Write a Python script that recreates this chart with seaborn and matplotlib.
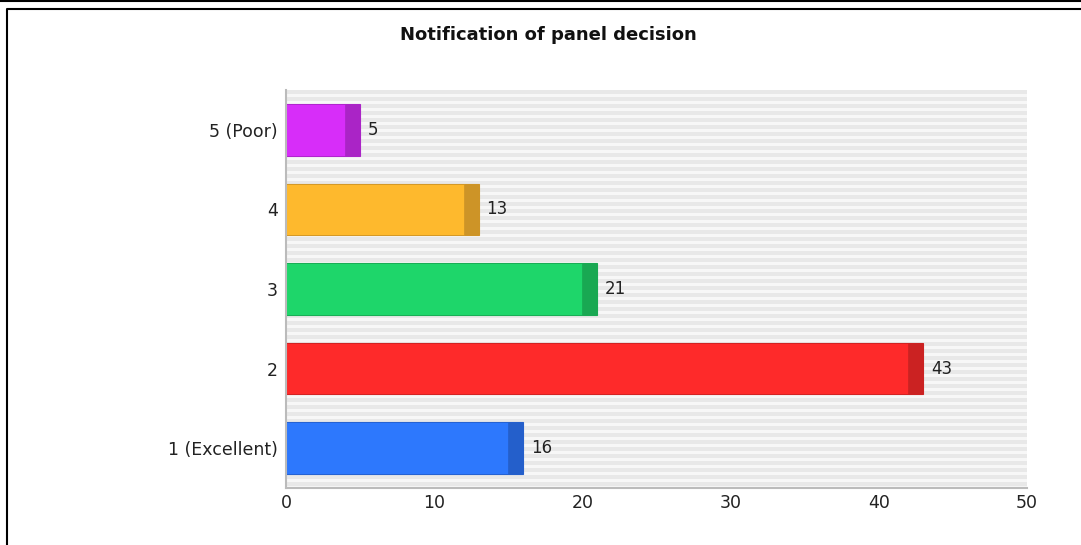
import numpy as np
import matplotlib
matplotlib.use('Agg')
import matplotlib.pyplot as plt
from matplotlib.lines import Line2D
import seaborn as sns

# data, top to bottom as in the chart
categories = ['5 (Poor)', '4', '3', '2', '1 (Excellent)']
values = [5, 13, 21, 43, 16]
x_ticks = [0, 10, 20, 30, 40, 50]

# bar colours (main face / darker end cap)
main_colors = ['#d72df9', '#feb92d', '#1ed66a', '#fe2a2a', '#2d78fd']
dark_colors = ['#aa24c6', '#cd9427', '#19a852', '#cb2222', '#245fcb']

sns.set_style('white')
plt.rcParams['font.family'] = ['DejaVu Sans']

fig = plt.figure(figsize=(10.81, 5.45), dpi=100)
pos = [286 / 1081, 1 - 488 / 545, (1027 - 286) / 1081, (488 - 90) / 545]

# striped background behind the plot
bg = fig.add_axes(pos, zorder=0)
rows = np.array(([0.91] * 4 + [0.965] * 3) * 60)[:398]
bg.imshow(np.repeat(rows[:, None], 2, axis=1), cmap='gray', vmin=0, vmax=1,
          aspect='auto', interpolation='nearest')
bg.axis('off')

ax = fig.add_axes(pos, zorder=1)
ax.set_facecolor('none')

# full bars in the dark colour, then the lighter face on top
sns.barplot(x=values, y=categories, hue=categories, palette=dark_colors,
            orient='h', width=0.65, saturation=1, legend=False, ax=ax)
full_bars = list(ax.containers)
for c, col in zip(full_bars, dark_colors):
    for p in c.patches:
        p.set_edgecolor(col)
        p.set_linewidth(0.8)

sns.barplot(x=[v - 1 for v in values], y=categories, hue=categories,
            palette=main_colors, orient='h', width=0.65, saturation=1,
            legend=False, ax=ax)
for c, col in zip(ax.containers[len(full_bars):], dark_colors):
    for p in c.patches:
        p.set_edgecolor(col)
        p.set_linewidth(0.5)

for c in full_bars:
    ax.bar_label(c, padding=5.5, fontsize=12, color='#222222')

ax.set_xlim(0, 50)
ax.set_ylim(4.5, -0.5)
ax.set_xticks(x_ticks)
ax.set_xlabel('')
ax.set_ylabel('')
ax.set_yticks(np.arange(-0.5, 5, 1), minor=True)
ax.tick_params(axis='y', which='major', length=0, pad=6, labelsize=12.5,
               labelcolor='#222222')
ax.tick_params(axis='y', which='minor', length=4, width=1.5, color='#aaaaaa')
ax.tick_params(axis='x', length=3, width=1.5, color='#aaaaaa', pad=3,
               labelsize=12.5, labelcolor='#222222', direction='inout')

for s in ['top', 'right']:
    ax.spines[s].set_visible(False)
for s in ['left', 'bottom']:
    ax.spines[s].set_color('#bbbbbb')
    ax.spines[s].set_linewidth(1.5)

fig.text(548 / 1081, 1 - 35 / 545, 'Notification of panel decision',
         ha='center', va='center', fontsize=13, fontweight='bold', color='#111111')

# frame lines
fig.add_artist(Line2D([0, 1], [1 - 1 / 545, 1 - 1 / 545], color='black', lw=1.5,
                      transform=fig.transFigure))
fig.add_artist(Line2D([7 / 1081, 7 / 1081, 1], [0, 1 - 9 / 545, 1 - 9 / 545],
                      color='black', lw=1.5, transform=fig.transFigure))

plt.savefig('out.png', dpi=100)
